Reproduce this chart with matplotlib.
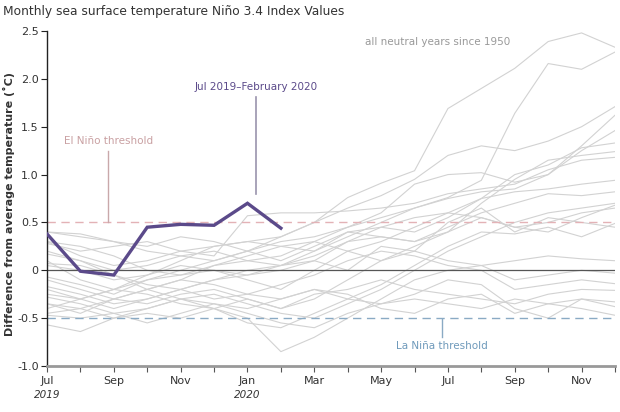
import numpy as np
import matplotlib
matplotlib.use('Agg')
import matplotlib.pyplot as plt
import matplotlib.transforms as mtransforms

# months Jul 2019 .. Dec 2020
months = ['Jul', 'Aug', 'Sep', 'Oct', 'Nov', 'Dec', 'Jan', 'Feb', 'Mar',
          'Apr', 'May', 'Jun', 'Jul', 'Aug', 'Sep', 'Oct', 'Nov', 'Dec']

# current event Jul 2019 - Feb 2020
current = [0.38, -0.01, -0.05, 0.45, 0.48, 0.47, 0.70, 0.44]

# all neutral years since 1950
neutral_years = [
    [0.30, 0.15, 0.05, 0.10, 0.20, 0.25, 0.30, 0.35, 0.50, 0.76, 0.91, 1.04, 1.69, 1.90, 2.11, 2.39, 2.48, 2.33],
    [0.10, -0.10, -0.20, -0.10, 0.00, 0.10, 0.20, 0.30, 0.35, 0.45, 0.55, 0.65, 0.76, 0.94, 1.64, 2.16, 2.10, 2.28],
    [0.40, 0.35, 0.30, 0.20, 0.15, 0.10, 0.20, 0.35, 0.50, 0.65, 0.78, 0.95, 1.20, 1.30, 1.25, 1.35, 1.50, 1.71],
    [-0.35, -0.45, -0.30, -0.20, -0.10, 0.05, 0.10, 0.15, 0.30, 0.45, 0.60, 0.90, 1.00, 1.02, 0.92, 1.00, 1.30, 1.62],
    [0.05, 0.00, -0.10, -0.05, 0.10, 0.25, 0.30, 0.25, 0.20, 0.35, 0.50, 0.65, 0.75, 0.82, 0.85, 1.00, 1.25, 1.46],
    [-0.20, -0.30, -0.40, -0.30, -0.20, -0.10, -0.05, 0.00, 0.10, 0.30, 0.45, 0.40, 0.55, 0.75, 1.00, 1.10, 1.28, 1.33],
    [-0.45, -0.40, -0.30, -0.35, -0.25, -0.20, -0.30, -0.40, -0.30, -0.10, 0.10, 0.25, 0.40, 0.70, 0.95, 1.15, 1.20, 1.24],
    [0.28, 0.20, 0.25, 0.30, 0.20, 0.15, 0.57, 0.60, 0.60, 0.62, 0.65, 0.70, 0.80, 0.85, 0.90, 1.05, 1.15, 1.18],
    [-0.07, -0.15, -0.25, -0.10, -0.05, 0.00, -0.10, -0.20, 0.00, 0.20, 0.30, 0.45, 0.60, 0.75, 0.82, 0.85, 0.90, 0.94],
    [0.17, 0.10, 0.00, 0.05, 0.15, 0.20, 0.10, 0.05, 0.15, 0.30, 0.35, 0.30, 0.45, 0.60, 0.70, 0.80, 0.78, 0.82],
    [-0.28, -0.35, -0.45, -0.40, -0.30, -0.25, -0.35, -0.45, -0.50, -0.35, -0.20, 0.00, 0.20, 0.35, 0.50, 0.60, 0.65, 0.70],
    [0.40, 0.38, 0.30, 0.25, 0.35, 0.30, 0.20, 0.10, 0.25, 0.40, 0.35, 0.30, 0.40, 0.55, 0.45, 0.40, 0.55, 0.68],
    [-0.40, -0.30, -0.20, -0.25, -0.35, -0.40, -0.55, -0.60, -0.45, -0.30, -0.15, 0.05, 0.25, 0.40, 0.38, 0.45, 0.35, 0.49],
    [-0.57, -0.64, -0.50, -0.40, -0.30, -0.40, -0.50, -0.85, -0.70, -0.50, -0.30, -0.10, 0.00, 0.05, 0.10, 0.15, 0.12, 0.10],
    [0.07, 0.05, -0.05, -0.15, -0.20, -0.10, 0.00, 0.05, 0.10, 0.00, 0.25, 0.20, 0.10, 0.05, -0.10, -0.05, 0.00, -0.03],
    [-0.17, -0.25, -0.35, -0.30, -0.20, -0.30, -0.25, -0.15, -0.05, 0.10, 0.20, 0.15, 0.05, 0.00, -0.20, -0.15, -0.10, -0.14],
    [-0.35, -0.40, -0.50, -0.45, -0.50, -0.40, -0.30, -0.40, -0.25, -0.20, -0.10, -0.20, -0.25, -0.30, -0.35, -0.25, -0.20, -0.21],
    [-0.47, -0.50, -0.45, -0.55, -0.45, -0.35, -0.45, -0.55, -0.60, -0.45, -0.35, -0.30, -0.35, -0.40, -0.30, -0.35, -0.30, -0.33],
    [0.20, 0.10, -0.05, -0.20, -0.30, -0.35, -0.40, -0.30, -0.20, -0.30, -0.35, -0.25, -0.10, -0.15, -0.40, -0.50, -0.30, -0.38],
    [-0.10, -0.20, -0.30, -0.20, -0.10, -0.15, -0.25, -0.30, -0.20, -0.25, -0.40, -0.45, -0.30, -0.25, -0.45, -0.35, -0.40, -0.47],
    [0.30, 0.25, 0.15, 0.00, -0.05, 0.05, 0.15, 0.25, 0.30, 0.20, 0.10, 0.20, 0.50, 0.65, 0.40, 0.55, 0.50, 0.45],
    [-0.25, -0.30, -0.20, -0.05, 0.05, 0.00, -0.05, 0.05, 0.20, 0.40, 0.45, 0.55, 0.60, 0.55, 0.45, 0.50, 0.60, 0.65],
]

yticks = [-1.0, -0.5, 0, 0.5, 1.0, 1.5, 2.0, 2.5]
ytick_labels = ['-1.0', '-0.5', '0', '0.5', '1.0', '1.5', '2.0', '2.5']
years = [(0, '2019'), (6, '2020')]

PURPLE = '#5b4a8a'
GRAY = '#d2d2d2'
PINK = '#e3b2b6'
BLUE = '#8aaac4'

plt.rcParams['font.family'] = 'DejaVu Sans'

fig = plt.figure(figsize=(6.2, 4.12), dpi=100)
ax = fig.add_axes([47/620, 1 - 366/412, 568/620, 335/412])

x = np.arange(len(months))
for yr in neutral_years:
    ax.plot(x, yr, color=GRAY, lw=0.8, zorder=1)

ax.axhline(0, color='#555555', lw=0.9, zorder=2)
ax.axhline(0.5, color=PINK, lw=1.0, ls=(0, (6, 4)), zorder=2)
ax.axhline(-0.5, color=BLUE, lw=1.0, ls=(0, (6, 4)), zorder=2)

ax.plot(np.arange(len(current)), current, color=PURPLE, lw=2.4, zorder=4,
        solid_joinstyle='miter')

ax.set_xlim(0, len(months) - 1)
ax.set_ylim(-1.0, 2.5)
ax.set_xticks(x[::2])
ax.set_xticklabels(months[::2], fontsize=8, color='#333333')
ax.set_xticks(x, minor=True)
ax.set_yticks(yticks)
ax.set_yticklabels(ytick_labels, fontsize=8, color='#333333')

ax.spines['top'].set_visible(False)
ax.spines['right'].set_visible(False)
ax.spines['left'].set_color('#222222')
ax.spines['left'].set_linewidth(1.0)
ax.spines['bottom'].set_color('#999999')
ax.spines['bottom'].set_linewidth(2.0)
ax.tick_params(axis='x', which='both', direction='out', length=4, width=0.8,
               color='#555555', pad=3)
ax.tick_params(axis='y', direction='out', length=4, width=0.8, color='#222222', pad=2)

fig.text(9/620, 1 - 204/412, 'Difference from average temperature (˚C)',
         rotation=90, ha='center', va='center', fontsize=8,
         fontweight='bold', color='#333333')

trans = mtransforms.blended_transform_factory(ax.transData, fig.transFigure)
for pos, yr in years:
    ax.text(pos, 1 - 395/412, yr, transform=trans, ha='center', va='center',
            fontsize=7.5, style='italic', color='#333333')

fig.text(3/620, 1 - 12/412, 'Monthly sea surface temperature Niño 3.4 Index Values',
         ha='left', va='center', fontsize=8.8, color='#333333')

# annotations
ax.text(11.7, 2.38, 'all neutral years since 1950', ha='center', va='center',
        fontsize=7.5, color='#999999')
ax.text(6.26, 1.92, 'Jul 2019–February 2020', ha='center', va='center',
        fontsize=7.5, color=PURPLE)
ax.plot([6.26, 6.26], [1.81, 0.80], color='#9a93ad', lw=1.2, zorder=3)
ax.text(1.83, 1.35, 'El Niño threshold', ha='center', va='center',
        fontsize=7.5, color='#c9a0a2')
ax.plot([1.83, 1.83], [1.25, 0.5], color='#c9a8aa', lw=1.0, zorder=3)
ax.text(11.83, -0.79, 'La Niña threshold', ha='center', va='center',
        fontsize=7.5, color='#6f9abb')
ax.plot([11.83, 11.83], [-0.51, -0.70], color='#8aaac4', lw=1.0, zorder=3)

fig.savefig('out.png', dpi=100)
